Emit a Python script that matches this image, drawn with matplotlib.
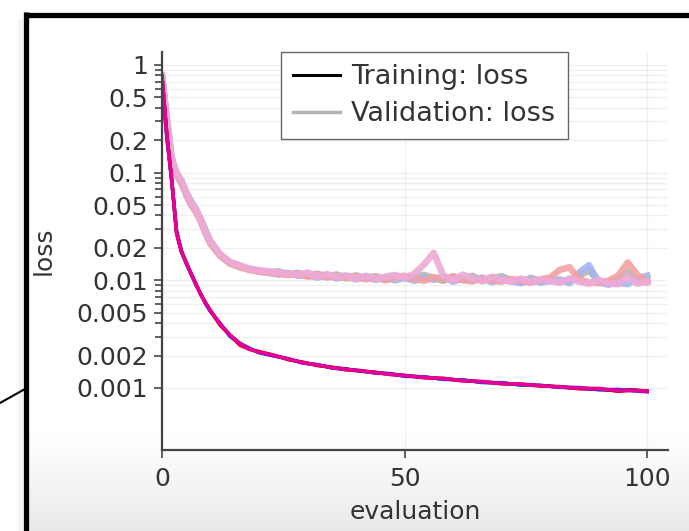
import numpy as np
import matplotlib
matplotlib.use("Agg")
import matplotlib.pyplot as plt
from matplotlib.lines import Line2D

# evaluation points
train_x = [0, 1, 2, 3, 4, 5, 6, 7, 8, 9, 10, 12, 14, 16, 18, 20, 23, 26, 29, 32,
           35, 38, 41, 44, 47, 50, 54, 58, 62, 66, 70, 74, 78, 82, 86, 90, 94, 97, 100]
val_x = [0, 1, 2, 3, 4, 5, 6, 7, 8, 9, 10, 12, 14, 16, 18, 20, 22, 24, 26, 28,
         30, 32, 34, 36, 38, 40, 42, 44, 46, 48, 50, 52, 54, 56, 58, 60, 62, 64, 66, 68,
         70, 72, 74, 76, 78, 80, 82, 84, 86, 88, 90, 92, 94, 96, 98, 100]

# training loss, four runs
train_black = [0.78, 0.22, 0.085, 0.028, 0.0185, 0.0145, 0.0115, 0.0092, 0.0074, 0.0061,
               0.0052, 0.0039, 0.0031, 0.0026, 0.0023, 0.00215, 0.0020, 0.00185, 0.00172, 0.00163,
               0.00155, 0.00150, 0.00143, 0.00139, 0.00135, 0.00130, 0.00126, 0.00121, 0.00118, 0.00113,
               0.00111, 0.00107, 0.00105, 0.00102, 0.00099, 0.00097, 0.00094, 0.00096, 0.00093]
train_blue = [0.77, 0.21, 0.083, 0.029, 0.0190, 0.0142, 0.0116, 0.0090, 0.0075, 0.0060,
              0.0051, 0.0040, 0.0030, 0.0026, 0.00235, 0.00212, 0.00198, 0.00187, 0.00170, 0.00165,
              0.00153, 0.00148, 0.00145, 0.00137, 0.00136, 0.00128, 0.00127, 0.00120, 0.00119, 0.00112,
              0.00112, 0.00106, 0.00106, 0.00101, 0.00101, 0.00096, 0.00097, 0.00094, 0.00092]
train_red = [0.78, 0.23, 0.087, 0.027, 0.0182, 0.0147, 0.0113, 0.0093, 0.0073, 0.0062,
             0.0052, 0.0038, 0.0031, 0.0025, 0.00228, 0.00218, 0.00202, 0.00183, 0.00174, 0.00161,
             0.00156, 0.00147, 0.00144, 0.00140, 0.00133, 0.00131, 0.00124, 0.00123, 0.00116, 0.00115,
             0.00109, 0.00109, 0.00104, 0.00103, 0.00098, 0.00099, 0.00093, 0.00095, 0.00094]
train_magenta = [0.79, 0.22, 0.086, 0.028, 0.0186, 0.0144, 0.0115, 0.0091, 0.0074, 0.0061,
                 0.0052, 0.0039, 0.0031, 0.0026, 0.0023, 0.00214, 0.00201, 0.00186, 0.00171, 0.00164,
                 0.00154, 0.00149, 0.00144, 0.00138, 0.00134, 0.00130, 0.00125, 0.00122, 0.00117, 0.00114,
                 0.00110, 0.00108, 0.00105, 0.00102, 0.00100, 0.00098, 0.00095, 0.00095, 0.00093]

# validation loss, four runs
val_gray = [0.80, 0.32, 0.14, 0.095, 0.080, 0.062, 0.050, 0.043, 0.035, 0.027,
            0.022, 0.0170, 0.0145, 0.0135, 0.0127, 0.0122, 0.0119, 0.0121, 0.0114, 0.0117,
            0.0110, 0.0115, 0.0108, 0.0113, 0.0106, 0.0111, 0.0105, 0.0109, 0.0103, 0.0110,
            0.0104, 0.0108, 0.0112, 0.0105, 0.0099, 0.0108, 0.0102, 0.0110, 0.0098, 0.0104,
            0.0109, 0.0100, 0.0097, 0.0105, 0.0099, 0.0103, 0.0096, 0.0100, 0.0110, 0.0124,
            0.0098, 0.0095, 0.0101, 0.0119, 0.0096, 0.0099]
val_blue = [0.79, 0.30, 0.125, 0.100, 0.083, 0.066, 0.054, 0.046, 0.037, 0.029,
            0.023, 0.0172, 0.0147, 0.0136, 0.0126, 0.0120, 0.0117, 0.0113, 0.0117, 0.0110,
            0.0112, 0.0106, 0.0111, 0.0104, 0.0109, 0.0102, 0.0107, 0.0101, 0.0106, 0.0100,
            0.0105, 0.0099, 0.0106, 0.0101, 0.0108, 0.0097, 0.0104, 0.0099, 0.0106, 0.0096,
            0.0103, 0.0098, 0.0094, 0.0101, 0.0095, 0.0099, 0.0102, 0.0094, 0.0118, 0.0138,
            0.0096, 0.0091, 0.0095, 0.0092, 0.0104, 0.0110]
val_red = [0.80, 0.28, 0.12, 0.098, 0.080, 0.064, 0.051, 0.044, 0.036, 0.028,
           0.022, 0.0168, 0.0143, 0.0132, 0.0125, 0.0121, 0.0118, 0.0115, 0.0112, 0.0115,
           0.0108, 0.0112, 0.0106, 0.0110, 0.0104, 0.0108, 0.0102, 0.0107, 0.0100, 0.0106,
           0.0110, 0.0103, 0.0099, 0.0107, 0.0102, 0.0109, 0.0100, 0.0098, 0.0104, 0.0100,
           0.0097, 0.0103, 0.0099, 0.0095, 0.0102, 0.0106, 0.0125, 0.0132, 0.0101, 0.0096,
           0.0094, 0.0099, 0.0110, 0.0146, 0.0112, 0.0097]
val_pink = [0.78, 0.30, 0.13, 0.100, 0.085, 0.065, 0.052, 0.045, 0.036, 0.028,
            0.023, 0.0175, 0.0148, 0.0138, 0.0128, 0.0124, 0.0121, 0.0117, 0.0116, 0.0112,
            0.0118, 0.0109, 0.0114, 0.0107, 0.0111, 0.0104, 0.0110, 0.0103, 0.0108, 0.0112,
            0.0105, 0.0115, 0.0140, 0.0180, 0.0110, 0.0100, 0.0113, 0.0104, 0.0099, 0.0108,
            0.0101, 0.0097, 0.0104, 0.0096, 0.0102, 0.0098, 0.0095, 0.0104, 0.0097, 0.0093,
            0.0101, 0.0094, 0.0092, 0.0108, 0.0093, 0.0096]

train_runs = [train_black, train_blue, train_red, train_magenta]
val_runs = [val_gray, val_blue, val_red, val_pink]
train_colors = ["#000000", "#1f3cff", "#ee0022", "#e4009a"]
val_colors = ["#b4b4b4", "#a4b6f2", "#f2a2a2", "#eeaad8"]

y_major = [1, 0.5, 0.2, 0.1, 0.05, 0.02, 0.01, 0.005, 0.002, 0.001]
y_major_labels = ["1", "0.5", "0.2", "0.1", "0.05", "0.02", "0.01", "0.005", "0.002", "0.001"]
y_minor = [0.003, 0.004, 0.006, 0.007, 0.008, 0.009,
           0.03, 0.04, 0.06, 0.07, 0.08, 0.09,
           0.3, 0.4, 0.6, 0.7, 0.8, 0.9]
x_ticks = [0, 50, 100]

W, H = 689, 531
fig = plt.figure(figsize=(W / 100, H / 100), dpi=100)

# background with the slide gradient at the bottom
bg = fig.add_axes([0, 0, 1, 1], zorder=-5)
rows = np.ones(H)
start = 425
t = np.arange(H - start) / (H - start - 1)
rows[start:] = 1.0 - 0.09 * t ** 1.2
img = np.repeat(rows[:, None], W, axis=1)
img[:, :24] = 1.0
bg.imshow(img, cmap="gray", vmin=0, vmax=1, aspect="auto", extent=[0, W, H, 0])
bg.set_xlim(0, W)
bg.set_ylim(H, 0)
bg.axis("off")

ax = fig.add_axes([162 / W, 81 / H, 506 / W, 398 / H])
ax.set_facecolor("none")
ax.set_yscale("log")

for run, c in zip(val_runs, val_colors):
    ax.plot(val_x, run, color=c, alpha=0.9, lw=4.8, solid_joinstyle="round")
for run, c in zip(train_runs, train_colors):
    ax.plot(train_x, run, color=c, lw=2.5)

ax.set_xlim(0, 104.3)
ax.set_ylim(2.65e-4, 1.32)

ax.set_yticks(y_major)
ax.set_yticklabels(y_major_labels)
ax.set_yticks(y_minor, minor=True)
ax.set_xticks(x_ticks)
ax.set_xticklabels([str(x) for x in x_ticks])

txt = "#333333"
ax.tick_params(axis="y", which="major", direction="out", length=6, width=1.2,
               pad=4, labelsize=18, colors="#444444", labelcolor=txt)
ax.tick_params(axis="y", which="minor", direction="out", length=5, width=1.2,
               colors="#444444")
ax.tick_params(axis="x", direction="out", length=6, width=1.2, pad=6,
               labelsize=18, colors="#444444", labelcolor=txt)

for s in ["top", "right"]:
    ax.spines[s].set_visible(False)
for s in ["left", "bottom"]:
    ax.spines[s].set_color("#444444")
    ax.spines[s].set_linewidth(1.6)

ax.grid(True, which="both", axis="y", color="#000000", alpha=0.06, lw=1)
ax.grid(True, which="major", axis="x", color="#000000", alpha=0.06, lw=1)
ax.set_axisbelow(True)

handles = [Line2D([], [], color="#000000", lw=2.2),
           Line2D([], [], color="#b4b4b4", lw=2.5)]
leg = ax.legend(handles, ["Training: loss", "Validation: loss"],
                loc="upper left", bbox_to_anchor=(0.235, 1.0), borderaxespad=0,
                fontsize=19.5, frameon=True, fancybox=False, framealpha=1,
                edgecolor="#666666", borderpad=0.45, labelspacing=0.4,
                handlelength=1.75, handletextpad=0.4)
leg.get_frame().set_linewidth(1.0)
for tx in leg.get_texts():
    tx.set_color(txt)

fig.text(44 / W, 1 - 251 / H, "loss", rotation=90, ha="center", va="center",
         fontsize=18, color=txt)
fig.text(415 / W, 1 - 512 / H, "evaluation", ha="center", va="center",
         fontsize=18, color=txt)

# slide frame, its soft shadow and the pointer line
for i, a in enumerate([0.015, 0.025, 0.04, 0.06]):
    fig.add_artist(Line2D([(17 + 1.5 * i) / W] * 2, [0, 1 - 20 / H],
                          transform=fig.transFigure, color="black", alpha=a, lw=1.2))
fig.add_artist(Line2D([26 / W, 26 / W], [0, 1 - 12 / H], transform=fig.transFigure,
                      color="black", lw=3.8, solid_capstyle="butt"))
fig.add_artist(Line2D([23.5 / W, 1], [1 - 14.5 / H, 1 - 14.5 / H],
                      transform=fig.transFigure, color="black", lw=3.8,
                      solid_capstyle="butt"))
fig.add_artist(Line2D([0, 25 / W], [1 - 403 / H, 1 - 389 / H],
                      transform=fig.transFigure, color="black", lw=1.5))

fig.savefig("out.png", dpi=100)
